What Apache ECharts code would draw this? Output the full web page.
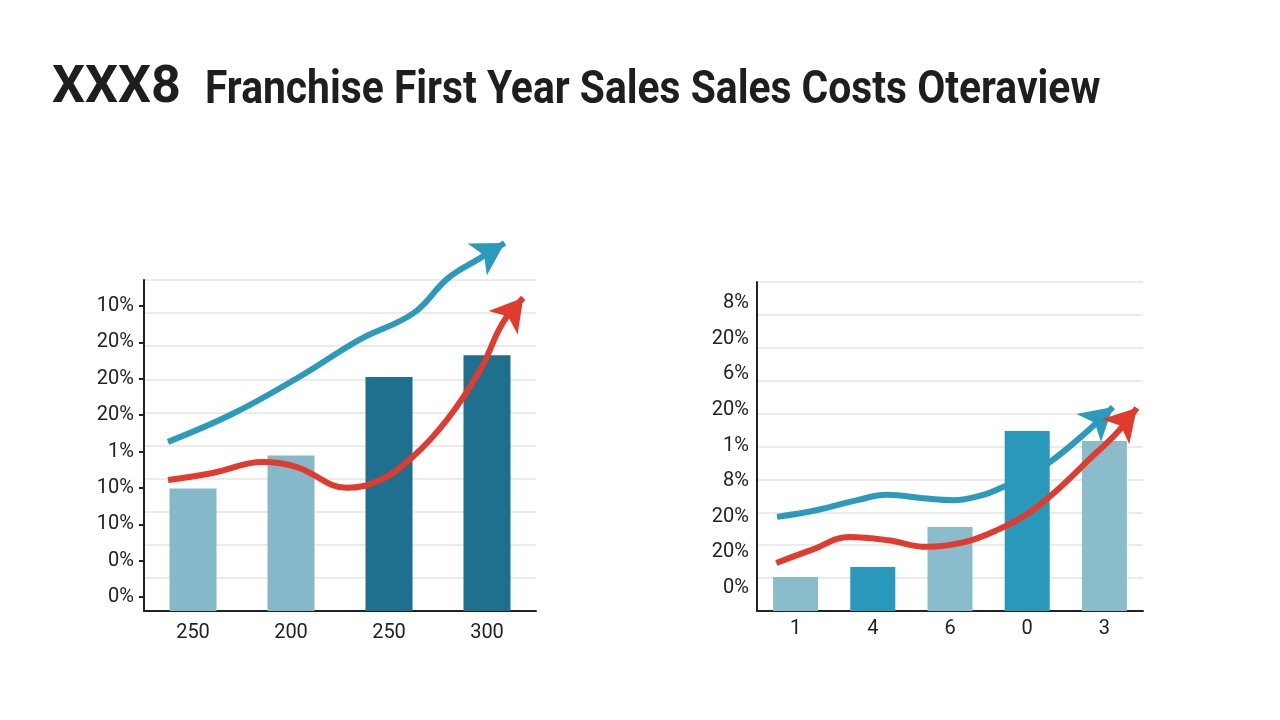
<!DOCTYPE html>
<html>
<head>
<meta charset="utf-8">
<script src="https://cdn.jsdelivr.net/npm/echarts@6/dist/echarts.min.js"></script>
<style>
  * { margin: 0; padding: 0; box-sizing: border-box; }
  html, body { width: 1280px; height: 720px; background: #fff; }
  #chart { width: 1280px; height: 720px; }
</style>
</head>
<body>
<div id="chart"></div>
<script>
// left panel
const leftCats = ['250', '200', '250', '300']
const leftBars = [3.7, 4.7, 7.07, 7.73]
const leftBarColors = ['#85b8c9', '#85b8c9', '#1f6f8f', '#1f6f8f']
const leftTickLabels = ['0%', '0%', '10%', '10%', '1%', '20%', '20%', '20%', '10%']
const leftBlue = [[0.245, 5.11], [0.9, 5.95], [1.6, 7.1], [2.2, 8.2], [2.75, 9.0], [3.1, 10.05], [3.43, 10.66], [3.68, 11.12]]
const leftRed = [[0.245, 3.96], [0.7, 4.17], [1.21, 4.5], [1.56, 4.35], [2.07, 3.72], [2.41, 3.96], [2.74, 4.65], [3.09, 5.77], [3.43, 7.28], [3.66, 8.7], [3.87, 9.46]]

// right panel
const rightCats = ['1', '4', '6', '0', '3']
const rightBars = [1.03, 1.34, 2.55, 5.47, 5.17]
const rightBarColors = ['#8bbccc', '#2a98ba', '#8bbccc', '#2a98ba', '#8bbccc']
const rightTickLabels = ['0%', '20%', '20%', '8%', '1%', '20%', '6%', '20%', '8%']
const rightBlue = [[0.26, 2.86], [0.78, 3.07], [1.3, 3.37], [1.68, 3.53], [2.15, 3.43], [2.54, 3.37], [2.93, 3.53], [3.19, 3.77], [3.5, 4.1], [3.78, 4.5], [4.2, 5.3], [4.61, 6.2]]
const rightRed = [[0.25, 1.46], [0.7, 1.85], [1.2, 2.25], [1.7, 2.15], [2.2, 1.95], [2.7, 2.1], [3.1, 2.45], [3.5, 2.95], [3.9, 3.7], [4.3, 4.6], [4.66, 5.41], [4.92, 6.17]]

const BLUE = '#2b9abb'
const RED = '#e03b2e'
const INK = '#222'

const chart = echarts.init(document.getElementById('chart'))

// last point is the arrow tip
const withArrow = (pts, rotate) => pts.map((p, i) => i === pts.length - 1
  ? { value: p, symbol: 'arrow', symbolSize: [28, 32], symbolRotate: rotate }
  : { value: p })

const hiddenAxis = (grid, max) => ({
  type: 'value', gridIndex: grid, min: 0, max: max, show: false
})

const gridYAxis = (grid) => ({
  type: 'value', gridIndex: grid, min: 0, max: 10, interval: 1,
  axisLine: { show: true, lineStyle: { color: INK, width: 2 } },
  axisTick: { show: false },
  axisLabel: { show: false },
  splitLine: { lineStyle: { color: '#e4e4e4', width: 1.5 } }
})

const labelYAxis = (grid, labels, ticks) => ({
  type: 'value', gridIndex: grid, min: 0, max: 8, interval: 1,
  axisLine: { show: false },
  axisTick: { show: ticks, length: 5, lineStyle: { color: INK, width: 2 } },
  splitLine: { show: false },
  axisLabel: {
    margin: ticks ? 10 : 8,
    color: INK, fontSize: 20, fontFamily: 'Roboto',
    formatter: v => labels[v]
  }
})

const catXAxis = (grid, cats, margin) => ({
  type: 'category', gridIndex: grid, data: cats,
  axisLine: { lineStyle: { color: INK, width: 2 } },
  axisTick: { show: false },
  axisLabel: { color: INK, fontSize: 20, fontFamily: 'Roboto', margin: margin }
})

const lineSeries = (xi, yi, pts, color, rotate, z) => ({
  type: 'line', xAxisIndex: xi, yAxisIndex: yi,
  data: withArrow(pts, rotate),
  smooth: 0.4, clip: false, z: z,
  symbol: 'none', showSymbol: true,
  itemStyle: { color: color },
  lineStyle: { color: color, width: 6, cap: 'butt' }
})

chart.setOption({
  animation: false,
  graphic: [
    {
      type: 'text', x: 52, y: 89,
      style: { text: 'XXX8', font: 'bold 52px Roboto', fill: '#1e1e1e', verticalAlign: 'middle' }
    },
    {
      type: 'text', x: 205, y: 91, scaleX: 0.868,
      style: {
        text: 'Franchise First Year Sales Sales Costs Oteraview',
        font: 'bold 47px Roboto', fill: '#1e1e1e', verticalAlign: 'middle'
      }
    }
  ],
  grid: [
    { left: 144, top: 280, width: 392, height: 331 },
    { left: 144, top: 306, width: 392, height: 291 },
    { left: 757, top: 282, width: 386, height: 329 },
    { left: 757, top: 303, width: 386, height: 285 }
  ],
  xAxis: [
    catXAxis(0, leftCats, 12),
    hiddenAxis(0, 4),
    catXAxis(2, rightCats, 8),
    hiddenAxis(2, 5),
    hiddenAxis(1, 1),
    hiddenAxis(3, 1)
  ],
  yAxis: [
    gridYAxis(0),
    labelYAxis(1, leftTickLabels, true),
    gridYAxis(2),
    labelYAxis(3, rightTickLabels, false)
  ],
  series: [
    {
      type: 'bar', xAxisIndex: 0, yAxisIndex: 0, barWidth: 47, z: 2,
      data: leftBars.map((v, i) => ({ value: v, itemStyle: { color: leftBarColors[i] } }))
    },
    lineSeries(1, 0, leftBlue, BLUE, -59, 3),
    lineSeries(1, 0, leftRed, RED, -39, 4),
    lineSeries(3, 2, rightBlue, BLUE, -49, 1),
    {
      type: 'bar', xAxisIndex: 2, yAxisIndex: 2, barWidth: 45, z: 2,
      data: rightBars.map((v, i) => ({ value: v, itemStyle: { color: rightBarColors[i] } }))
    },
    lineSeries(3, 2, rightRed, RED, -42, 4)
  ]
})
</script>
</body>
</html>
